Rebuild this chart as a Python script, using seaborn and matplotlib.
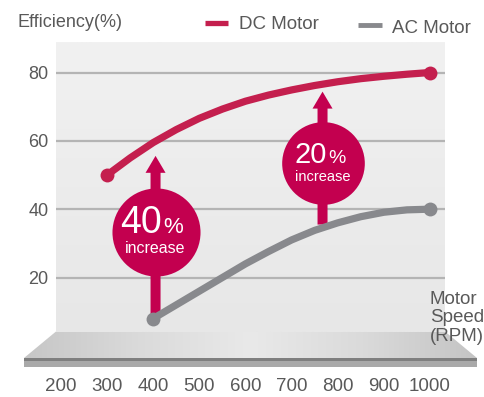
import numpy as np
import pandas as pd
import matplotlib
matplotlib.use("Agg")
import matplotlib.pyplot as plt
from matplotlib.patches import Polygon, Rectangle
from matplotlib.colors import LinearSegmentedColormap
import seaborn as sns

# ---------------------------------------------------------------
# data
# ---------------------------------------------------------------
dc_rpm = [300, 350, 400, 450, 500, 550, 600, 650, 700, 750, 800, 850, 900, 950, 1000]
dc_eff = [50, 55, 59.5, 63.3, 66.6, 69.3, 71.6, 73.4, 74.9, 76.2, 77.3, 78.2, 78.9, 79.5, 80]

ac_rpm = [400, 450, 500, 550, 600, 650, 700, 750, 800, 850, 900, 950, 1000]
ac_eff = [8, 12, 16, 20, 24, 27.6, 31, 33.8, 36, 37.8, 39.1, 39.8, 40]

x_ticks = [200, 300, 400, 500, 600, 700, 800, 900, 1000]
y_ticks = [20, 40, 60, 80]

# "increase" callouts: arrow x, arrow tip, arrow foot, bubble centre, label
boost_rpm = [405, 767]
boost_tip = [55.6, 74.4]
boost_foot = [9.0, 35.5]
boost_mid = [33.4, 53.5]
boost_num = ["40", "20"]

DC_COLOR = "#c41f4e"
BUBBLE_COLOR = "#c3004f"
AC_COLOR = "#88898d"
TEXT_COLOR = "#595959"

sns.set_theme(style="white")
plt.rcParams['font.family'] = ['Liberation Sans', 'DejaVu Sans']

fig = plt.figure(figsize=(4.85, 3.97), dpi=100)

# background layer in pixel coordinates (floor of the "stage")
bg = fig.add_axes([0, 0, 1, 1], zorder=0)
bg.set_xlim(0, 485)
bg.set_ylim(397, 0)
bg.axis('off')

floor_cmap = LinearSegmentedColormap.from_list(
    "floor", ["#c6c6c6", "#dadada", "#e9e9e9", "#dadada", "#c4c4c4"])
grad = np.linspace(0, 1, 256).reshape(1, -1)
floor_img = bg.imshow(grad, cmap=floor_cmap, extent=(24, 477, 358, 331.5),
                      aspect='auto', interpolation='bicubic')
floor = Polygon([(56, 331.5), (445, 331.5), (477, 358), (24, 358)],
                closed=True, facecolor='none', edgecolor='none')
bg.add_patch(floor)
floor_img.set_clip_path(floor)
bg.add_patch(Rectangle((24, 357.7), 453, 3.2, facecolor="#7f7f7f", edgecolor='none'))
bg.add_patch(Rectangle((24, 360.8), 453, 6, facecolor="#a9a9a9", edgecolor='none'))

# main chart area
ax = fig.add_axes([56 / 485, 1 - 332 / 397, 389 / 485, 290 / 397], zorder=1)
ax.set_xlim(189.2, 1032.5)
ax.set_ylim(4.05, 88.93)

panel_cmap = LinearSegmentedColormap.from_list("panel", ["#e7e7e7", "#f1f1f1"])
ax.imshow(np.linspace(0, 1, 256).reshape(-1, 1), cmap=panel_cmap, origin='lower',
          extent=(189.2, 1032.5, 4.05, 88.93), aspect='auto', zorder=0)

for v in y_ticks:
    ax.axhline(v, color="#b4b4b4", lw=1.6, zorder=1)

# arrows + bubbles
for x, tip, foot in zip(boost_rpm, boost_tip, boost_foot):
    ax.annotate("", xy=(x, tip), xytext=(x, foot),
                arrowprops=dict(arrowstyle="simple,head_length=0.61,head_width=0.72,tail_width=0.36",
                                mutation_scale=20, color=BUBBLE_COLOR, lw=0,
                                shrinkA=0, shrinkB=0),
                zorder=2)

ax.scatter([boost_rpm[0]], [boost_mid[0]], s=4020, color=BUBBLE_COLOR, lw=0, zorder=3)
ax.scatter([boost_rpm[1]], [boost_mid[1]], s=3540, color=BUBBLE_COLOR, lw=0, zorder=3)

# bubble texts (40% is drawn a bit larger than 20%)
sizes = [(27, 16, 11.5, (4.8, -0.9), (5.3, -0.9), -12.0),
         (21, 14, 10.5, (2.9, 0.2), (3.9, 0.2), -10.3)]
for x, mid, num, (s_num, s_pct, s_inc, off_num, off_pct, off_inc) in zip(
        boost_rpm, boost_mid, boost_num, sizes):
    ax.annotate(num, xy=(x, mid), xytext=off_num, textcoords='offset points',
                ha='right', va='baseline', fontsize=s_num, color='white', zorder=4)
    ax.annotate("%", xy=(x, mid), xytext=off_pct, textcoords='offset points',
                ha='left', va='baseline', fontsize=s_pct, color='white', zorder=4)
    ax.annotate("increase", xy=(x, mid), xytext=(0, off_inc), textcoords='offset points',
                ha='center', va='center', fontsize=s_inc, color='white', zorder=4)

# efficiency curves
dc = pd.DataFrame({"rpm": dc_rpm, "eff": dc_eff})
ac = pd.DataFrame({"rpm": ac_rpm, "eff": ac_eff})
sns.lineplot(data=dc, x="rpm", y="eff", ax=ax, color=DC_COLOR, lw=5.2,
             solid_capstyle='round', solid_joinstyle='round', zorder=5)
sns.lineplot(data=ac, x="rpm", y="eff", ax=ax, color=AC_COLOR, lw=5.2,
             solid_capstyle='round', solid_joinstyle='round', zorder=5)
ax.scatter([dc_rpm[0], dc_rpm[-1]], [dc_eff[0], dc_eff[-1]], s=100, color=DC_COLOR, lw=0, zorder=6)
ax.scatter([ac_rpm[0], ac_rpm[-1]], [ac_eff[0], ac_eff[-1]], s=100, color=AC_COLOR, lw=0, zorder=6)

# axes cosmetics
ax.set_xlabel("")
ax.set_ylabel("")
for sp in ax.spines.values():
    sp.set_visible(False)
ax.set_yticks(y_ticks)
ax.set_yticklabels([str(v) for v in y_ticks])
ax.set_xticks(x_ticks)
ax.set_xticklabels([str(v) for v in x_ticks])
ax.tick_params(axis='y', length=0, pad=5.5, labelsize=13, labelcolor=TEXT_COLOR)
ax.tick_params(axis='x', length=0, pad=33, labelsize=13.5, labelcolor=TEXT_COLOR)
ax.grid(False)

# overlay layer for title, legend and axis caption, in pixel coordinates
top = fig.add_axes([0, 0, 1, 1], zorder=3)
top.set_xlim(0, 485)
top.set_ylim(397, 0)
top.axis('off')
top.patch.set_alpha(0)

top.text(18, 26.7, "Efficiency(%)", fontsize=13, color=TEXT_COLOR, ha='left', va='baseline')
top.plot([205, 228], [23, 23], color=DC_COLOR, lw=3.8, solid_capstyle='butt')
top.text(239, 29.3, "DC Motor", fontsize=13.5, color=TEXT_COLOR, ha='left', va='baseline')
top.plot([358, 382], [25, 25], color=AC_COLOR, lw=3.5, solid_capstyle='butt')
top.text(392, 32.7, "AC Motor", fontsize=13.5, color=TEXT_COLOR, ha='left', va='baseline')
for i, word in enumerate(["Motor", "Speed", "(RPM)"]):
    top.text(430, 299.3 + i * 18.7, word, fontsize=13.5, color=TEXT_COLOR,
             ha='left', va='center')

fig.savefig("out.png", dpi=100)
